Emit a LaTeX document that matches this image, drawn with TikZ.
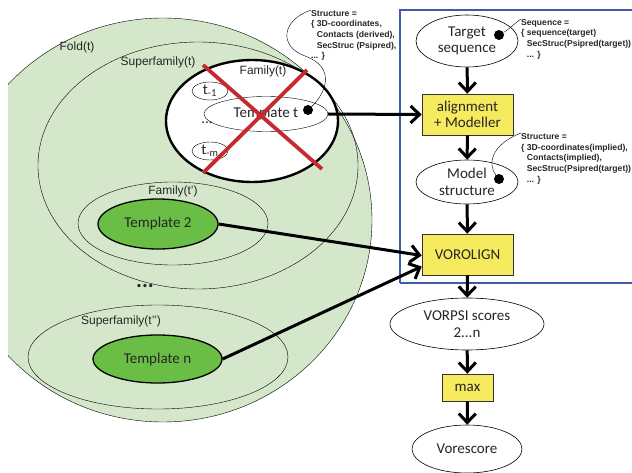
\documentclass[tikz,border=0pt]{standalone}
\usepackage{fontspec}
\setmainfont{Carlito}
\newfontfamily\arialfont{Liberation Sans}
\usetikzlibrary{
    arrows.meta,
    positioning,
    shapes.geometric
}
\definecolor{foldgreen}{HTML}{D4E7CA}
\definecolor{tmplgreen}{HTML}{6ABD45}
\definecolor{boxyellow}{HTML}{F6EB5E}
\definecolor{crossred}{HTML}{C62A30}
\definecolor{frameblue}{HTML}{3E5AA8}

\begin{document}
\begin{tikzpicture}[
    x=1pt, y=-1pt,
    every node/.style={font=\fontsize{15pt}{16.5pt}\selectfont, text=black!85},
    ring/.style={ellipse, draw=black, thin, inner sep=0pt},
    family_ring/.style={ellipse, draw=black, line width=2.4pt, fill=white, inner sep=0pt},
    tmpl_green/.style={ellipse, draw=black, line width=1.3pt, fill=tmplgreen, inner sep=0pt},
    flow_ell/.style={ellipse, draw=black, semithick, fill=white, inner sep=0pt, align=center},
    step_box/.style={rectangle, draw=black!80, semithick, fill=boxyellow, inner sep=0pt, align=center},
    set_label/.style={font=\arialfont\fontsize{12pt}{14pt}\selectfont},
    note/.style={font=\arialfont\bfseries\fontsize{8.6pt}{10.6pt}\selectfont, align=left, anchor=north west, inner sep=0pt},
    dot/.style={circle, fill=black, inner sep=0pt, minimum size=10pt},
    arrow/.style={line width=3pt, draw=black, -{Straight Barb[length=9pt,width=17pt]}},
    cross/.style={line width=3.8pt, draw=crossred}
]
\useasboundingbox (0,0) rectangle (632,473);

% template side: nested classification sets
\begin{scope}
    \clip (8,0) rectangle (632,473);
    \node[ellipse, draw=black, thin, fill=foldgreen, minimum width=418pt, minimum height=404pt] (fold) at (163,220) {};
\end{scope}
\node[ring, minimum width=320pt, minimum height=247pt] (sfam_t) at (198,165.5) {};
\node[family_ring, minimum width=172pt, minimum height=122pt] (fam_t) at (252,121) {};
\node[ring, minimum width=36pt, minimum height=18pt] (t_one) at (210,91) {};
\node at (t_one) {t\textsubscript{-1}};
\node[ring, minimum width=124pt, minimum height=35pt] (tmpl_t) at (266,114) {Template t};
\node at (207,123) {...};
\node[ring, minimum width=36pt, minimum height=18pt] (t_m) at (210,151) {};
\node at (t_m) {t\textsubscript{-m}};
\draw[cross] (203,65) -- (322,169);
\draw[cross] (307,70) -- (203,173);

\node[set_label] (fold_lbl) at (77,47) {Fold(t)};
\node[set_label] (sfam_t_lbl) at (158,62) {Superfamily(t)};
\node[set_label] (fam_t_lbl) at (263,71) {Family(t)};

\node[ring, minimum width=190pt, minimum height=83pt] (fam_t2) at (173,223.5) {};
\node[set_label] (fam_t2_lbl) at (173,191) {Family(t’)};
\node[tmpl_green, minimum width=120pt, minimum height=50pt] (tmpl_2) at (158,224) {Template 2};
\node[font=\bfseries\fontsize{22pt}{22pt}\selectfont] (more) at (145,286) {...};
\node[ring, minimum width=260pt, minimum height=104pt] (sfam_t3) at (158,357) {};
\node[set_label] (sfam_t3_lbl) at (121,321) {Superfamily(t’’)};
\node[tmpl_green, minimum width=129pt, minimum height=48pt] (tmpl_n) at (157.5,359) {Template n};

% target side
\draw[frameblue, line width=1.8pt] (400,283) -- (400,10) -- (640,10) (400,283) -- (640,283);
\node[flow_ell, minimum width=102pt, minimum height=52pt] (target) at (467,41) {Target\\sequence};
\node[step_box, minimum width=91pt, minimum height=41pt] (align) at (467.5,114.5) {alignment\\+ Modeller};
\node[flow_ell, minimum width=102pt, minimum height=44pt] (model) at (467,182) {Model\\structure};
\node[step_box, minimum width=91pt, minimum height=41pt] (vorolign) at (467.5,254.5) {VOROLIGN};
\node[flow_ell, minimum width=154pt, minimum height=52pt] (vorpsi) at (467,324) {VORPSI scores\\2...n};
\node[step_box, minimum width=51pt, minimum height=27pt] (maxbox) at (467.5,387.5) {max};
\node[flow_ell, minimum width=110pt, minimum height=48pt] (vorescore) at (467,449) {Vorescore};

\draw[arrow] (target) -- (align);
\draw[arrow] (align) -- (model);
\draw[arrow] (model) -- (vorolign);
\draw[arrow] (vorolign) -- (vorpsi);
\draw[arrow] (vorpsi) -- (maxbox);
\draw[arrow] (maxbox) -- (vorescore);
\draw[arrow] (tmpl_t.east) -- (align.west);
\draw[arrow] (tmpl_2.east) -- ([yshift=-1pt]vorolign.west);
\draw[arrow] (tmpl_n.east) -- ([yshift=-12pt]vorolign.west);

% annotations
\node[dot] (t_dot) at (308,110) {};
\node[note] (t_note) at (311,10) {Structure =\\\{ 3D-coordinates,\\\phantom{\{ }Contacts (derived),\\\phantom{\{ }SecStruc (Psipred),\\... \}};
\draw[thin] (t_dot) .. controls (324,95) and (338,68) .. (305,56) .. controls (278,46) and (282,20) .. (t_note.north west);

\node[dot] (seq_dot) at (499,35) {};
\node[note] (seq_note) at (521,19) {Sequence =\\\{ sequence(target)\\\phantom{\{ }SecStruc(Psipred(target))\\\phantom{\{ }... \}};
\draw[thin] (seq_dot) .. controls (508,30) and (514,24) .. (seq_note.north west);

\node[dot] (model_dot) at (499,179) {};
\node[note, font=\arialfont\bfseries\fontsize{8.6pt}{10.8pt}\selectfont] (model_note) at (521,133) {Structure =\\\{ 3D-coordinates(implied),\\\phantom{\{ }Contacts(implied),\\\phantom{\{ }SecStruc(Psipred(target))\\\phantom{\{ }... \}};
\draw[thin] (model_dot) .. controls (488,165) and (490,145) .. (model_note.north west);

\end{tikzpicture}
\end{document}
